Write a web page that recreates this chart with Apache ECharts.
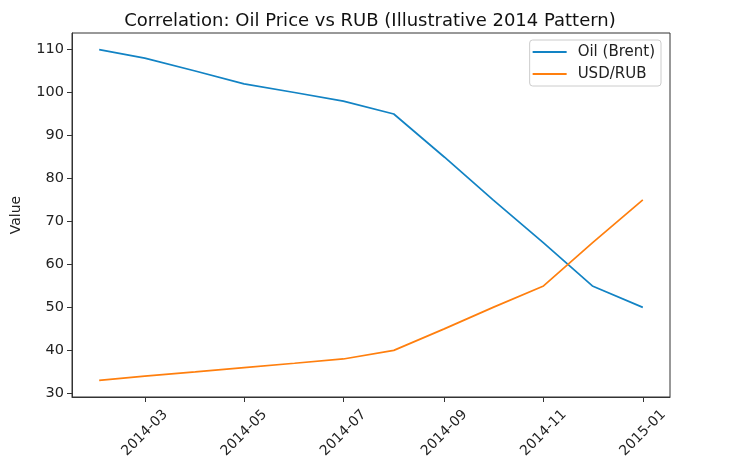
<!DOCTYPE html>
<html>
<head>
<meta charset="utf-8">
<script src="https://cdn.jsdelivr.net/npm/echarts@6/dist/echarts.min.js"></script>
<style>html,body{margin:0;padding:0;background:#fff;}#c{width:729px;height:463px;}</style>
</head>
<body>
<div id="c"></div>
<script>
const dates = ['2014-02-01','2014-03-01','2014-04-01','2014-05-01','2014-06-01','2014-07-01','2014-08-01','2014-09-01','2014-10-01','2014-11-01','2014-12-01','2015-01-01'];
const oil = [110, 108, 105, 102, 100, 98, 95, 85, 75, 65, 55, 50];
const rub = [33, 34, 35, 36, 37, 38, 40, 45, 50, 55, 65, 75];
const xTickLabels = ['2014-03','2014-05','2014-07','2014-09','2014-11','2015-01'];
const yTicks = [30, 40, 50, 60, 70, 80, 90, 100, 110];

function ts(s){ const p = s.split('-').map(Number); return Date.UTC(p[0], p[1]-1, p[2] || 1); }
const xs = dates.map(ts);
const xTickVals = xTickLabels.map(ts);
const xSpan = xs[xs.length-1] - xs[0];
const xMin = xs[0] - 0.05 * xSpan, xMax = xs[xs.length-1] + 0.05 * xSpan;
const allY = oil.concat(rub);
const yLo = Math.min(...allY), yHi = Math.max(...allY);
const yMin = yLo - 0.05*(yHi-yLo), yMax = yHi + 0.05*(yHi-yLo);
function fmtX(v){ const d = new Date(v); const m = d.getUTCMonth()+1; return d.getUTCFullYear() + '-' + (m<10?'0':'') + m; }

const font = 'DejaVu Sans';
const chart = echarts.init(document.getElementById('c'), null, {renderer:'canvas'});
chart.setOption({
  animation: false,
  backgroundColor: '#fff',
  textStyle: {fontFamily: font},
  title: {
    text: 'Correlation: Oil Price vs RUB (Illustrative 2014 Pattern)',
    left: 365, textAlign: 'center', top: 7,
    textStyle: {fontFamily: font, fontSize: 18, fontWeight: 'normal', color: '#111'}
  },
  grid: {left: 72, right: 59, top: 33, bottom: 66, show: true, borderColor: '#333', borderWidth: 1, backgroundColor: 'transparent'},
  legend: {
    orient: 'vertical', right: 68, top: 40,
    padding: [4, 6, 4, 3], itemGap: 6, itemWidth: 34, itemHeight: 2, icon: 'rect',
    borderColor: '#ccc', borderWidth: 1, borderRadius: 3, backgroundColor: 'rgba(255,255,255,0.8)',
    textStyle: {fontFamily: font, fontSize: 15, color: '#222', lineHeight: 16, padding: [0,0,0,6]},
    data: ['Oil (Brent)', 'USD/RUB']
  },
  xAxis: {
    type: 'value', min: xMin, max: xMax,
    splitLine: {show: false},
    axisLine: {show: true, onZero: false, lineStyle: {color: '#333', width: 1}},
    axisTick: {show: true, length: 5, lineStyle: {color: '#333'}, customValues: xTickVals},
    axisLabel: {customValues: xTickVals, formatter: fmtX, rotate: 45, align: 'center', verticalAlign: 'middle', margin: 36, fontFamily: font, fontSize: 14, color: '#222'}
  },
  yAxis: {
    type: 'value', min: yMin, max: yMax,
    name: 'Value', nameLocation: 'middle', nameGap: 49, nameRotate: 90,
    nameTextStyle: {fontFamily: font, fontSize: 14, color: '#222'},
    splitLine: {show: false},
    axisLine: {show: true, lineStyle: {color: '#333', width: 1}},
    axisTick: {show: true, length: 5, lineStyle: {color: '#333'}, customValues: yTicks},
    axisLabel: {customValues: yTicks, margin: 8, fontFamily: font, fontSize: 14.5, color: '#222'}
  },
  series: [
    {name: 'Oil (Brent)', type: 'line', data: xs.map((x,i)=>[x, oil[i]]), showSymbol: false, symbol: 'none', lineStyle: {color: '#1283c4', width: 1.7}, itemStyle: {color: '#1283c4'}},
    {name: 'USD/RUB', type: 'line', data: xs.map((x,i)=>[x, rub[i]]), showSymbol: false, symbol: 'none', lineStyle: {color: '#ff7f0e', width: 1.7}, itemStyle: {color: '#ff7f0e'}}
  ]
});
</script>
</body>
</html>
